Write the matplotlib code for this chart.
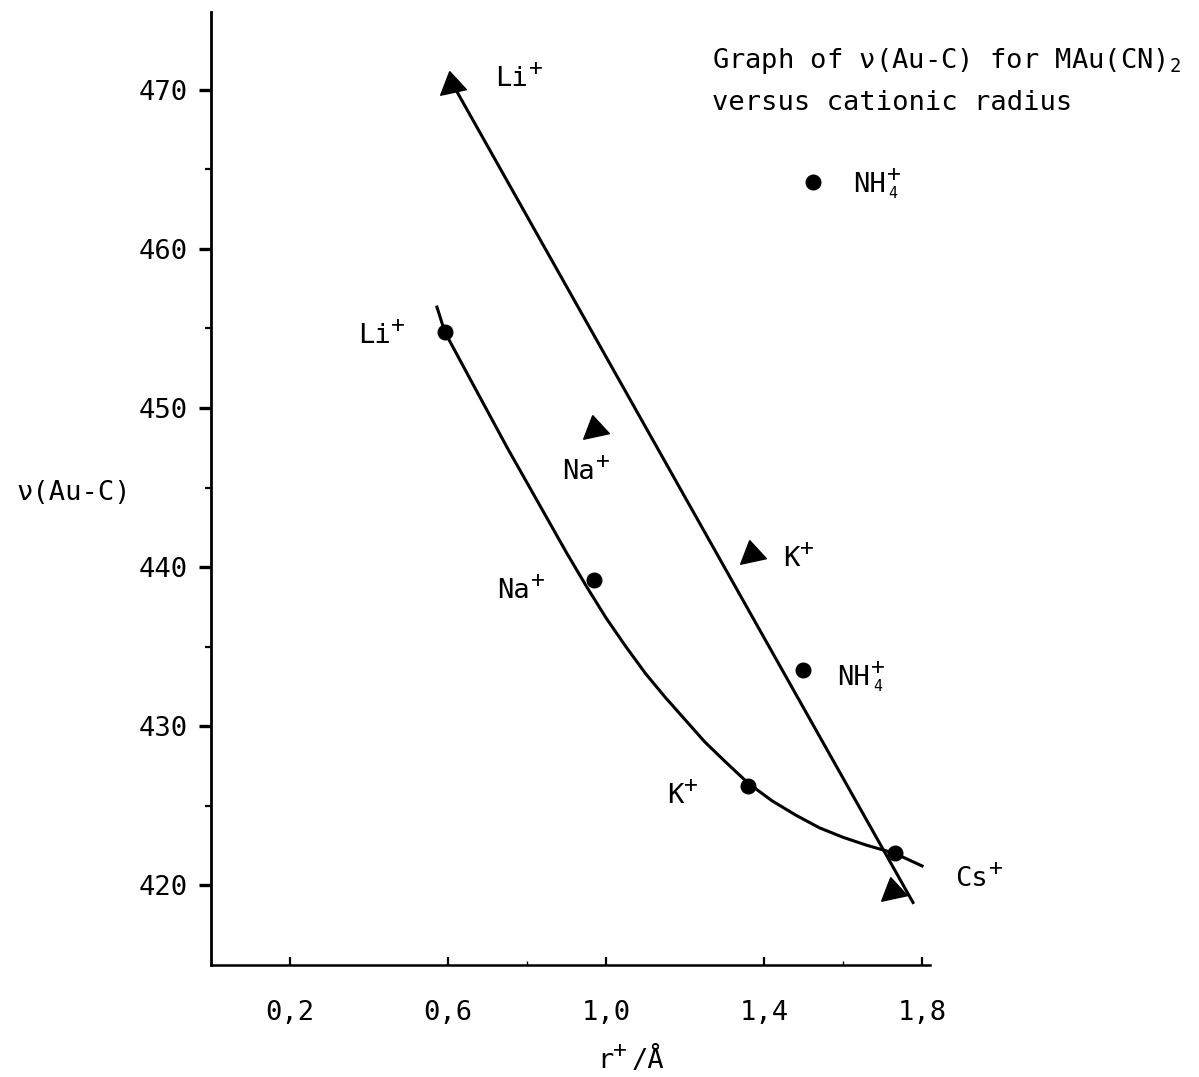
#! /usr/bin/python3

# Graph of nu(Au-C) for MAu(CN)2 versus cationic radius

import matplotlib
matplotlib.use('Agg')
import matplotlib.pyplot as plt

##############################################################################

# triangles (upper straight line)
tri_ions = ['Li', 'Na', 'K', 'Cs']
tri_r    = [0.61, 0.972, 1.370, 1.727]
tri_nu   = [470.3, 448.7, 440.8, 419.6]

# dots (lower curve)
dot_ions = ['Li', 'Na', 'K', 'Cs', 'NH4', 'NH4']
dot_r    = [0.592, 0.970, 1.359, 1.732, 1.499, 1.524]
dot_nu   = [454.8, 439.2, 426.2, 422.0, 433.5, 464.2]

# hand drawn straight line (ends)
line_r  = [0.618, 1.777]
line_nu = [470.1, 418.9]

# hand drawn curve
curve_r  = [0.572, 0.592, 0.65, 0.70, 0.75, 0.80, 0.85, 0.90, 0.95, 1.00,
            1.05, 1.10, 1.15, 1.20, 1.25, 1.30, 1.36, 1.42, 1.48, 1.54,
            1.60, 1.66, 1.73, 1.80]
curve_nu = [456.35, 454.78, 452.1, 449.8, 447.5, 445.3, 443.1, 440.9,
            438.8, 436.8, 435.0, 433.3, 431.8, 430.4, 429.0, 427.8, 426.4,
            425.3, 424.4, 423.6, 423.0, 422.5, 422.0, 421.2]

yticks  = [420, 430, 440, 450, 460, 470]
yminor  = [425, 435, 445, 455, 465]
xticks  = [0.2, 0.6, 1.0, 1.4, 1.8]
xlabels = ['0,2', '0,6', '1,0', '1,4', '1,8']
xminor  = [0.8, 1.6]

ion_base = {'Li': 'Li', 'Na': 'Na', 'K': 'K', 'Cs': 'Cs', 'NH4': 'NH'}

##############################################################################

plt.rcParams['font.family'] = 'DejaVu Sans Mono'
plt.rcParams['mathtext.fontset'] = 'custom'
plt.rcParams['mathtext.rm'] = 'DejaVu Sans Mono'
plt.rcParams['mathtext.it'] = 'DejaVu Sans Mono'
FS = 19.5
CHAR = 0.602 * FS * 100 / 72.0      # width of one mono glyph in pixels
W, H = 1199.0, 1077.0


def ion_label(ax, ion, xy, off):
    # base text, then a raised '+' (and a small '4' for ammonium)
    base = ion_base[ion]
    ax.annotate(base, xy, xytext=off, textcoords='offset pixels',
                ha='left', va='baseline', fontsize=FS)
    xs = off[0] + len(base) * CHAR + 1
    ax.annotate('+', xy, xytext=(xs, off[1] + 11), textcoords='offset pixels',
                ha='left', va='baseline', fontsize=FS * 0.85)
    if ion == 'NH4':
        ax.annotate('4', xy, xytext=(xs + 2, off[1] - 6),
                    textcoords='offset pixels', ha='left', va='baseline',
                    fontsize=FS * 0.55)


fig = plt.figure(figsize=(11.99, 10.77), dpi=100)
ax = fig.add_axes([0, 0, 1, 1])
ax.set_xlim(-0.534, 2.501)
ax.set_ylim(407.925, 475.66)

ax.spines['top'].set_visible(False)
ax.spines['right'].set_visible(False)
ax.spines['left'].set_position(('data', 0))
ax.spines['bottom'].set_position(('data', 414.97))
ax.spines['left'].set_bounds(414.97, 474.9)
ax.spines['bottom'].set_bounds(0, 1.82)
ax.spines['left'].set_linewidth(2.0)
ax.spines['bottom'].set_linewidth(1.8)

ax.set_yticks(yticks)
ax.set_yticks(yminor, minor=True)
ax.set_xticks(xticks)
ax.set_xticklabels(xlabels)
ax.set_xticks(xminor, minor=True)
ax.tick_params(axis='y', which='major', direction='out', length=8.5,
               width=2.4, pad=8, labelsize=FS)
ax.tick_params(axis='y', which='minor', direction='out', length=4, width=1.6)
ax.tick_params(axis='x', which='major', direction='in', length=6,
               width=1.6, pad=25, labelsize=FS)
ax.tick_params(axis='x', which='minor', direction='in', length=3, width=1.0)

# lines
ax.plot(line_r, line_nu, color='k', linewidth=2.2)
ax.plot(curve_r, curve_nu, color='k', linewidth=2.2)

# markers
tri = [(-0.2, 1.0), (1.0, -0.3), (-0.85, -0.7), (-0.2, 1.0)]
ax.plot(tri_r, tri_nu, linestyle='none', marker=tri, markersize=20,
        color='k')
ax.plot(dot_r, dot_nu, linestyle='none', marker='o', markersize=10.5,
        color='k')

# labels, offsets in pixels from the marker centre
tri_off = [(43, -1), (-33, -50), (31, -12), (62, 5)]
for ion, r, nu, off in zip(tri_ions, tri_r, tri_nu, tri_off):
    ion_label(ax, ion, (r, nu), off)

dot_off = [(-87, -11), (-97, -18), (-81, -17), None, (34, -15), (40, -10)]
for ion, r, nu, off in zip(dot_ions, dot_r, dot_nu, dot_off):
    if off is None:
        continue
    ion_label(ax, ion, (r, nu), off)

# titles and axis names
fig.text(712 / W, 1 - 68 / H, r'Graph of ν(Au-C) for MAu(CN)$_2$',
         ha='left', va='baseline', fontsize=FS)
fig.text(712 / W, 1 - 110 / H, 'versus cationic radius',
         ha='left', va='baseline', fontsize=FS)
fig.text(74 / W, 1 - 493 / H, 'ν(Au-C)', ha='center', va='center',
         fontsize=FS)

# x axis name r+/A, built from pieces so the '+' sits raised
xl, yb = 597.0, 1068.0
fig.text(xl / W, 1 - yb / H, 'r', ha='left', va='baseline', fontsize=FS)
fig.text((xl + CHAR) / W, 1 - (yb - 11) / H, '+', ha='left', va='baseline',
         fontsize=FS * 0.85)
fig.text((xl + 2 * CHAR + 2) / W, 1 - yb / H, '/Å', ha='left',
         va='baseline', fontsize=FS)

fig.savefig('out.png', dpi=100)
